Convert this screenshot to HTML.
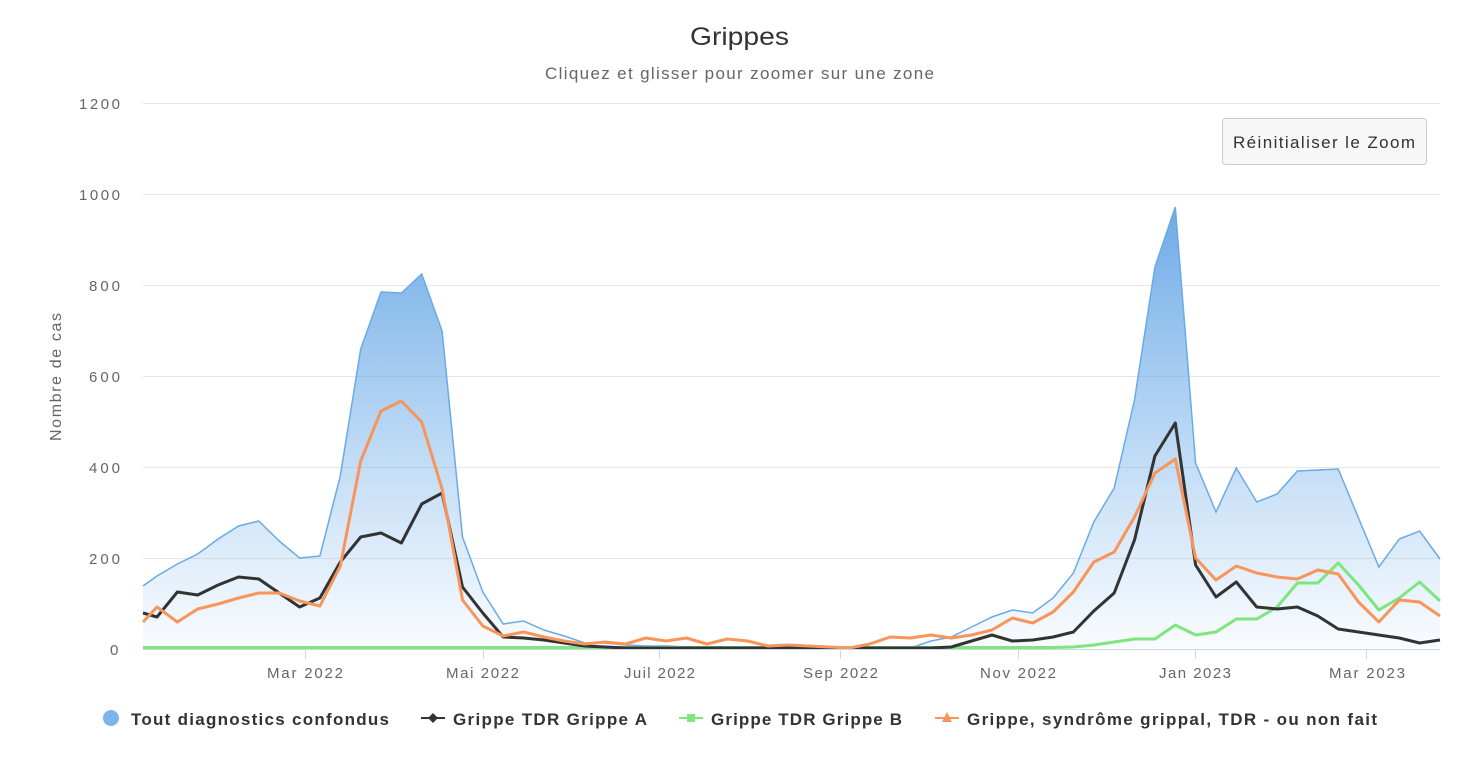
<!DOCTYPE html>
<html><head><meta charset="utf-8"><style>
html,body{margin:0;padding:0;background:#fff;}
svg{display:block;font-family:"Liberation Sans",sans-serif;}
</style></head><body>
<svg id="c" width="1470" height="758" viewBox="0 0 1470 758" xmlns="http://www.w3.org/2000/svg">
<defs>
<linearGradient id="g" gradientUnits="userSpaceOnUse" x1="0" y1="200" x2="0" y2="649">
<stop offset="0" stop-color="#6aa9e6" stop-opacity="1"/>
<stop offset="1" stop-color="#7cb5ec" stop-opacity="0.04"/>
</linearGradient>
</defs>
<rect width="1470" height="758" fill="#fff"/>
<text x="690" y="45" font-size="25" fill="#333" textLength="99" lengthAdjust="spacingAndGlyphs">Grippes</text>
<text x="545" y="79" font-size="17" fill="#666" textLength="389" lengthAdjust="spacing">Cliquez et glisser pour zoomer sur une zone</text>
<g stroke="#e6e6e6" stroke-width="1">
<line x1="143" x2="1440" y1="103.5" y2="103.5"/>
<line x1="143" x2="1440" y1="194.5" y2="194.5"/>
<line x1="143" x2="1440" y1="285.5" y2="285.5"/>
<line x1="143" x2="1440" y1="376.5" y2="376.5"/>
<line x1="143" x2="1440" y1="467.5" y2="467.5"/>
<line x1="143" x2="1440" y1="558.5" y2="558.5"/>
</g>
<g font-size="15" fill="#666">
<text x="79" y="109" textLength="41">1200</text><text x="79" y="200" textLength="41">1000</text><text x="89" y="291" textLength="31">800</text>
<text x="89" y="382" textLength="31">600</text><text x="89" y="473" textLength="31">400</text><text x="89" y="564" textLength="31">200</text><text x="110" y="655" textLength="10">0</text>
</g>
<text transform="translate(61,441) rotate(-90)" font-size="16" fill="#666" textLength="128">Nombre de cas</text>
<g id="series"></g>
<line x1="143" x2="1440" y1="649.5" y2="649.5" stroke="#ccd6eb"/>
<g stroke="#ccd6eb">
<line x1="305.5" x2="305.5" y1="649" y2="659"/><line x1="483.5" x2="483.5" y1="649" y2="659"/>
<line x1="659.5" x2="659.5" y1="649" y2="659"/><line x1="840.5" x2="840.5" y1="649" y2="659"/>
<line x1="1018.5" x2="1018.5" y1="649" y2="659"/><line x1="1195.5" x2="1195.5" y1="649" y2="659"/>
<line x1="1366.5" x2="1366.5" y1="649" y2="659"/>
</g>
<g font-size="15" fill="#666">
<text x="267" y="678" textLength="76">Mar 2022</text><text x="446" y="678" textLength="73">Mai 2022</text><text x="624" y="678" textLength="71">Juil 2022</text>
<text x="803" y="678" textLength="75">Sep 2022</text><text x="980" y="678" textLength="76">Nov 2022</text><text x="1159" y="678" textLength="72">Jan 2023</text>
<text x="1329" y="678" textLength="76">Mar 2023</text>
</g>
<rect x="1222.5" y="118.5" width="204" height="46" rx="3" fill="#f7f7f7" stroke="#cccccc"/>
<text x="1233" y="148" font-size="17" fill="#333" textLength="182">Réinitialiser le Zoom</text>
<g font-size="17" font-weight="bold" fill="#333">
<circle cx="111" cy="718" r="8" fill="#7cb5ec"/>
<text x="131" y="725" textLength="258">Tout diagnostics confondus</text>
<line x1="421" x2="445" y1="718" y2="718" stroke="#333" stroke-width="2"/>
<path d="M433 713 L438 718 L433 723 L428 718Z" fill="#333"/>
<text x="453" y="725" textLength="194">Grippe TDR Grippe A</text>
<line x1="679" x2="703" y1="718" y2="718" stroke="#7fe57f" stroke-width="2"/>
<rect x="687" y="714" width="8" height="8" fill="#7fe57f"/>
<text x="711" y="725" textLength="191">Grippe TDR Grippe B</text>
<line x1="935" x2="959" y1="718" y2="718" stroke="#f7955a" stroke-width="2"/>
<path d="M947 712 L952 722 L942 722Z" fill="#f7955a"/>
<text x="967" y="725" textLength="410">Grippe, syndrôme grippal, TDR - ou non fait</text>
</g>
</svg>
<script>
var blue=[586,576,564,554,539,526,521,541,558,556,476,349,292,293,274,331,537,592,624,621,630,636,643,643,645,646,646,647,647,647,648,648,648,648,648,648,648,648,648,641,637,627,617,610,613,598,573,522,488,400,267,207,463,512,468,502,494,471,470,469,518,567,539,531,559];
var orange=[622,607,622,609,604,598,593,593,601,606,566,461,411,401,422,489,600,626,636,632,637,641,644,642,644,638,641,638,644,639,641,646,645,646,647,648,644,637,638,635,638,635,630,618,623,612,592,562,552,517,473,459,558,580,566,573,577,579,570,574,602,622,600,602,616];
var black=[613,617,592,595,585,577,579,593,607,598,562,537,533,543,504,493,587,613,637,638,640,643,646,647,648,648,648,648,648,648,648,648,648,648,648,648,648,648,648,648,647,641,635,641,640,637,632,611,593,540,456,423,565,597,582,607,609,607,616,629,632,635,638,643,640];
var green=[];for(var i=0;i<65;i++)green.push(647.5);
var gt={46:647,47:645,48:642,49:639,50:639,51:625,52:635,53:632,54:619,55:619,56:607,57:583,58:583,59:563,60:585,61:610,62:598,63:582,64:601};
for(var k in gt)green[k]=gt[k];
function xs(i){return i==0?143:157+(i-1)*(1283/63);}
function pts(a){return a.map(function(y,i){return xs(i).toFixed(1)+","+y}).join(" ");}
var ns="http://www.w3.org/2000/svg",g=document.getElementById("series");
function add(tag,attrs){var e=document.createElementNS(ns,tag);for(var k in attrs)e.setAttribute(k,attrs[k]);g.appendChild(e);}
add("polygon",{points:"143,649 "+pts(blue)+" 1440,649",fill:"url(#g)"});
add("polyline",{points:pts(blue),fill:"none",stroke:"#6aaae6","stroke-width":1.5});
add("polyline",{points:pts(green),fill:"none",stroke:"#7fe57f","stroke-width":3,"stroke-linejoin":"round"});
add("polyline",{points:pts(black),fill:"none",stroke:"#333","stroke-width":3,"stroke-linejoin":"round"});
add("polyline",{points:pts(orange),fill:"none",stroke:"#f7955a","stroke-width":3,"stroke-linejoin":"round"});
</script>
</body></html>
